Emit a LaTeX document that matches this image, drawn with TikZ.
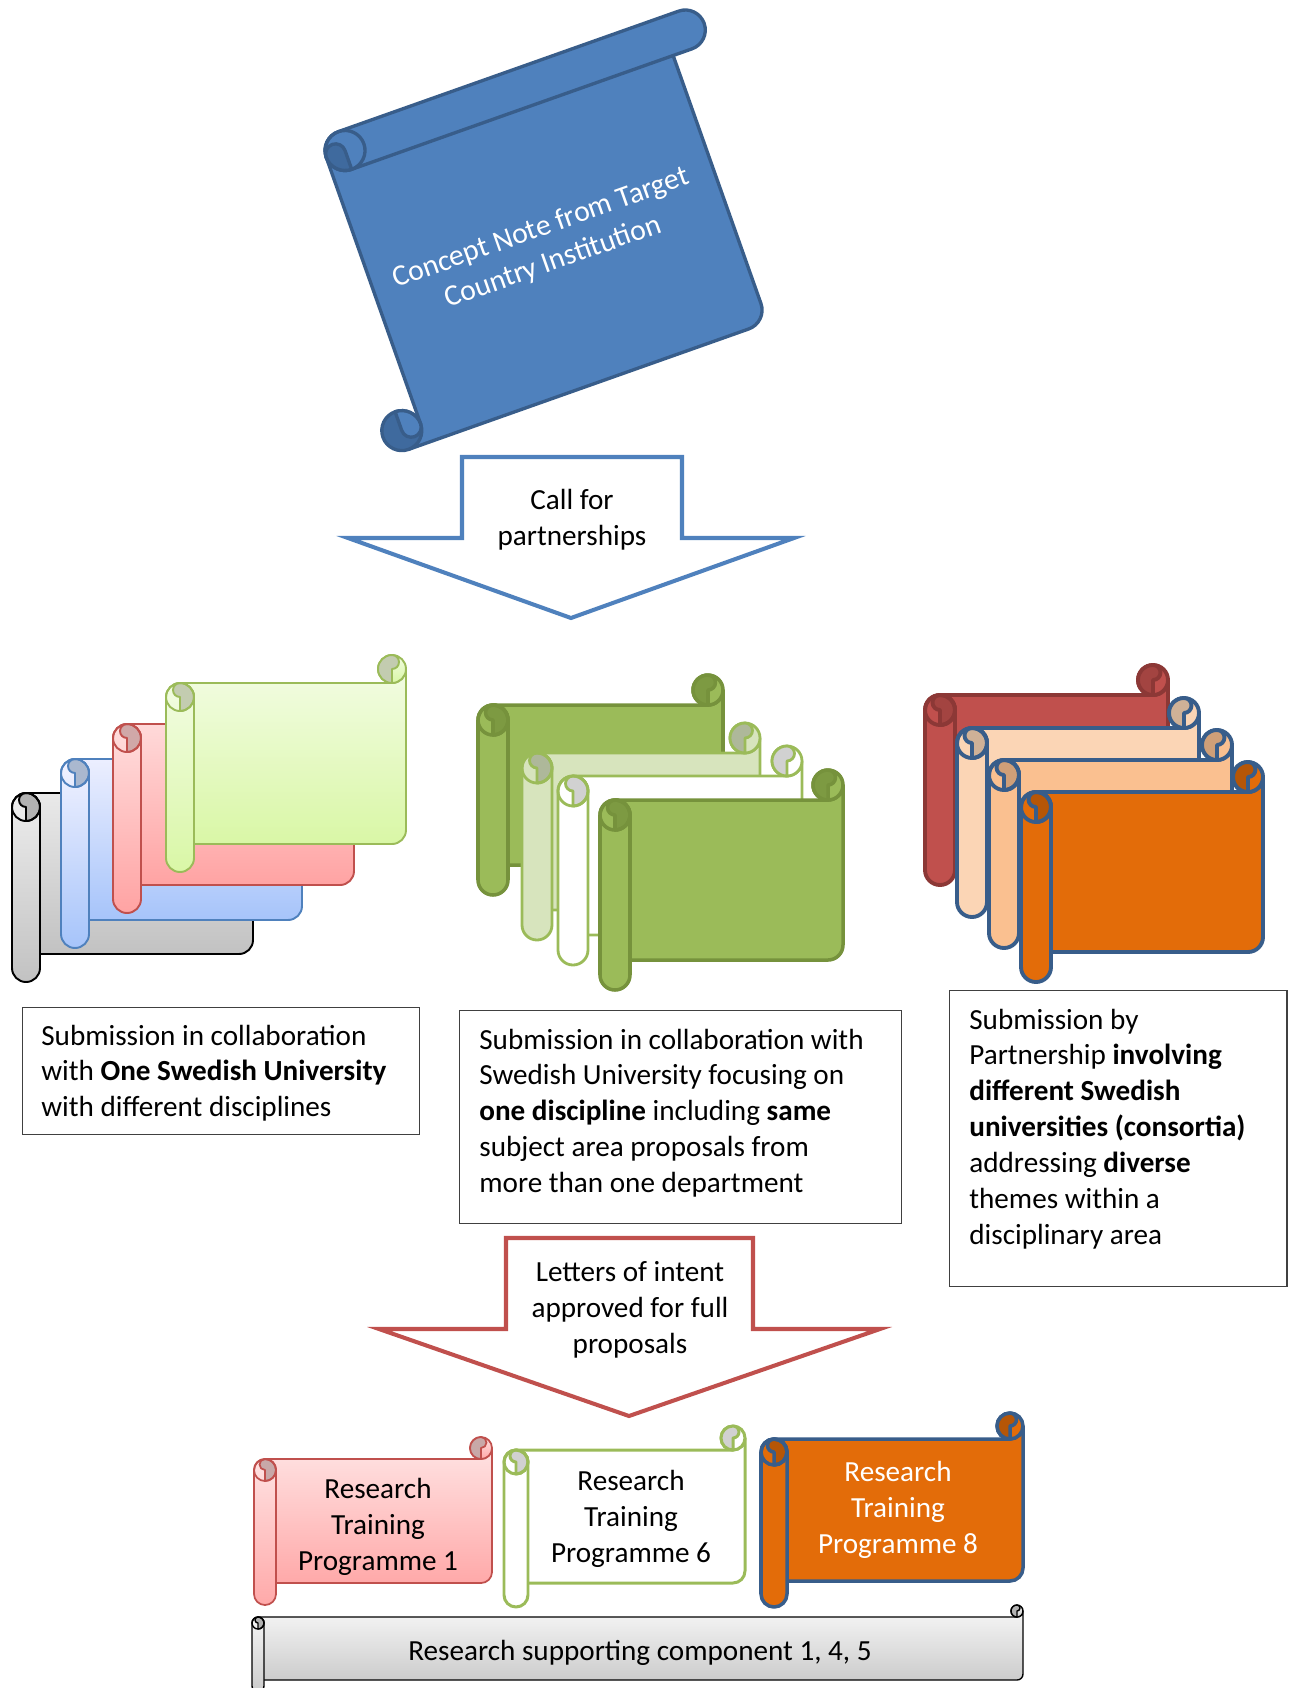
\documentclass[tikz,border=0pt]{standalone}
\usepackage{fontspec}
\setmainfont{Carlito}
\newcommand\myfs{\fontsize{16.6pt}{20.4pt}\selectfont}
\definecolor{bfill}{HTML}{4F81BD}
\definecolor{bdraw}{HTML}{385D8A}
\definecolor{bdark}{HTML}{3F6A9E}
\definecolor{gA}{HTML}{9BBB59}
\definecolor{gB}{HTML}{76923C}
\definecolor{gL}{HTML}{D7E4BD}
\definecolor{rA}{HTML}{C0504D}
\definecolor{rB}{HTML}{8C3836}
\definecolor{pA}{HTML}{FBD5B5}
\definecolor{pB}{HTML}{FAC090}
\definecolor{oA}{HTML}{E36C09}
\definecolor{boxline}{HTML}{404040}
% vertical scroll: x, y, W, H, c, body style, stroke colour, line width, curl colour
\newcommand{\vscroll}[9]{%
\begin{scope}[shift={(#1,#2)}, line join=round]
\pgfmathsetmacro\scW{#3}\pgfmathsetmacro\scH{#4}\pgfmathsetmacro\scC{#5}%
\pgfmathsetmacro\scF{#5/2}\pgfmathsetmacro\scQ{#5/4}%
\path[#6, draw=#7, line width=#8] (\scF,\scC) -- (\scW-\scF,\scC)
  arc[start angle=90,end angle=0,radius=\scF] -- (\scW,\scH-\scC-\scF)
  arc[start angle=0,end angle=90,radius=\scF] -- (\scF,\scH-\scC) -- cycle;
\path[#6, draw=#7, line width=#8] (\scW-\scF,\scF) circle[radius=\scF];
\path[fill=#9, draw=#7, line width=#8] (\scW-\scF,\scF) -- (\scW-\scF,\scC)
  arc[start angle=90,end angle=270,radius=\scF]
  arc[start angle=-90,end angle=90,radius=\scQ] -- cycle;
\path[#6, draw=#7, line width=#8] (0,\scC+\scF) -- (0,\scH-\scF)
  arc[start angle=180,end angle=0,radius=\scF] -- (\scC,\scC+\scF)
  arc[start angle=0,end angle=-180,radius=\scF] -- cycle;
\path[fill=#9, draw=#7, line width=#8] (\scF,\scC+\scF) -- (\scF,2*\scC)
  arc[start angle=90,end angle=-90,radius=\scF]
  arc[start angle=-90,end angle=-270,radius=\scQ] -- cycle;
\draw[draw=#7, line width=#8] (\scF,\scC+\scF) circle[radius=\scF];
\end{scope}}
\tikzset{
  boxst/.style={draw=boxline, line width=0.8pt, inner sep=0pt},
  txt/.style={inner sep=0pt, align=left, font=\myfs, anchor=north west},
  ctxt/.style={inner sep=0pt, align=center, font=\myfs},
  arrowst/.style={fill=white, line width=2.3pt, line join=miter}
}
\begin{document}
\begin{tikzpicture}[x=0.02cm, y=-0.02cm]
\useasboundingbox (0,0) rectangle (1289,1688);

% ---------- top blue scroll ----------
\begin{scope}[shift={(319.5,138.3)}, rotate=19.5, line join=round]
  \path[fill=bfill, draw=bdraw, line width=1.9pt] (0,20) -- (0,303) -- (-20,323) -- (341,323)
     arc[start angle=90,end angle=0,radius=20] -- (361,20) -- cycle;
  \path[fill=bdark, draw=bdraw, line width=1.9pt] (-20,303) circle[radius=20];
  \path[fill=bfill, draw=bdraw, line width=1.9pt] (-20,303) -- (-20,283)
     arc[start angle=-90,end angle=0,radius=20]
     arc[start angle=0,end angle=180,radius=10] -- cycle;
  \path[fill=bfill, draw=bdraw, line width=1.9pt] (20,0) -- (381,0)
     arc[start angle=-90,end angle=90,radius=20] -- (20,40)
     arc[start angle=90,end angle=270,radius=20] -- cycle;
  \draw[bdraw, line width=1.9pt] (20,20) circle[radius=20];
  \path[fill=bdark, draw=bdraw, line width=1.9pt] (20,20) -- (20,40)
     arc[start angle=90,end angle=180,radius=20]
     arc[start angle=180,end angle=360,radius=10] -- cycle;
  \node[ctxt, text=white, transform shape, font=\fontsize{16.9pt}{20.6pt}\selectfont] (concept) at (179,177)
     {Concept Note from Target\\Country Institution};
\end{scope}

% ---------- call for partnerships arrow ----------
\draw[arrowst, draw=bfill] (462,457) -- (682,457) -- (682,538) -- (794,538) -- (571,618)
   -- (348,538) -- (462,538) -- cycle;
\node[ctxt] (call) at (572,520) {Call for\\partnerships};

% ---------- left group ----------
\vscroll{12}{765}{241}{217}{28}{top color=black!7, bottom color=black!24}{black}{1.1pt}{black!30}
\vscroll{61}{731}{241}{217}{28}{top color=blue!5!white, bottom color={rgb,255:red,166;green,196;blue,250}}{bfill}{1.1pt}{{rgb,255:red,170;green,184;blue,207}}
\vscroll{113}{696}{241}{217}{28}{top color={rgb,255:red,255;green,222;blue,222}, bottom color={rgb,255:red,255;green,163;blue,163}}{rA}{1.1pt}{{rgb,255:red,208;green,168;blue,168}}
\vscroll{166}{655}{240}{217}{28}{top color={rgb,255:red,242;green,252;blue,226}, bottom color={rgb,255:red,217;green,247;blue,166}}{gA}{1.1pt}{{rgb,255:red,195;green,204;blue,176}}

% ---------- middle group ----------
\vscroll{478}{675}{245}{220}{30}{fill=gA}{gB}{2pt}{gB!80!gA}
\vscroll{522}{723}{238}{217}{30}{fill=gL}{gA}{1.6pt}{{rgb,255:red,174;green,184;blue,154}}
\vscroll{558}{746}{244}{219}{30}{fill=white}{gA}{1.6pt}{black!18}
\vscroll{600}{770}{243}{220}{30}{fill=gA}{gB}{2pt}{gB!80!gA}

% ---------- right group ----------
\vscroll{925}{665}{243}{220}{30}{fill=rA}{rB}{2.2pt}{rA!85!black}
\vscroll{957}{698}{242}{219}{30}{fill=pA}{bdraw}{2.2pt}{{rgb,255:red,207;green,177;blue,151}}
\vscroll{989}{730}{243}{218}{30}{fill=pB}{bdraw}{2.2pt}{{rgb,255:red,207;green,159;blue,120}}
\vscroll{1021}{762}{242}{220}{30}{fill=oA}{bdraw}{2.2pt}{oA!80!black}

% ---------- text boxes ----------
\node[boxst, anchor=north west, minimum width=7.95cm, minimum height=2.54cm] (box1) at (21.5,1007) {};
\node[txt] (t1) at (41,1024.5) {Submission in collaboration\\with \textbf{One Swedish University}\\with different disciplines};
\node[boxst, anchor=north west, minimum width=8.84cm, minimum height=4.26cm] (box2) at (459,1010) {};
\node[txt] (t2) at (479,1028.5) {Submission in collaboration with\\Swedish University focusing on\\\textbf{one discipline} including \textbf{same}\\subject area proposals from\\more than one department};
\node[boxst, anchor=north west, minimum width=6.75cm, minimum height=5.92cm] (box3) at (949,990) {};
\node[txt] (t3) at (969,1008.5) {Submission by\\Partnership \textbf{involving}\\\textbf{different Swedish}\\\textbf{universities (consortia)}\\addressing \textbf{diverse}\\themes within a\\disciplinary area};

% ---------- letters of intent arrow ----------
\draw[arrowst, draw=rA] (506,1238) -- (753,1238) -- (753,1329) -- (880,1329) -- (629,1416)
   -- (379,1329) -- (506,1329) -- cycle;
\node[ctxt] (letters) at (630,1310) {Letters of intent\\approved for full\\proposals};

% ---------- bottom row ----------
\vscroll{254}{1437}{238}{168}{22}{top color={rgb,255:red,255;green,226;blue,226}, bottom color={rgb,255:red,255;green,169;blue,169}}{rA}{1pt}{{rgb,255:red,200;green,168;blue,168}}
\vscroll{504}{1426}{241}{181}{24}{fill=white}{gA}{1.7pt}{black!18}
\vscroll{761}{1413}{262}{194}{26}{fill=oA}{bdraw}{2pt}{oA!80!black}
\vscroll{252}{1605}{771}{87}{12}{top color=black!4, bottom color=black!20}{black}{0.8pt}{black!30}

\node[ctxt] (rtp1) at (378,1527) {Research\\Training\\Programme 1};
\node[ctxt] (rtp6) at (631,1519) {Research\\Training\\Programme 6};
\node[ctxt, text=white] (rtp8) at (898,1510) {Research\\Training\\Programme 8};
\node[ctxt] (rsc) at (640,1653) {Research supporting component 1, 4, 5};
\end{tikzpicture}
\end{document}
